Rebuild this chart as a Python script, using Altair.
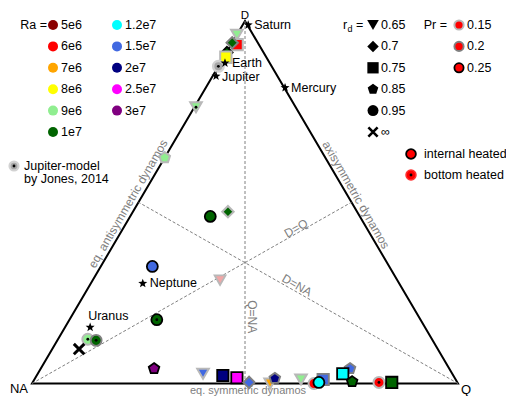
import numpy as np
import pandas as pd
import altair as alt

# ---------------- data ----------------
ra_labels = ["5e6", "6e6", "7e6", "8e6", "9e6", "1e7", "1.2e7", "1.5e7", "2e7", "2.5e7", "3e7"]
ra_colors = ["#8b0000", "#ff0000", "#ffa500", "#ffff00", "#90ee90", "#006400",
             "#00ffff", "#4169e1", "#000080", "#ff00ff", "#800080"]
rd_labels = ["0.65", "0.7", "0.75", "0.85", "0.95", "inf"]
rd_text = ["0.65", "0.7", "0.75", "0.85", "0.95", "∞"]
pr_labels = ["0.15", "0.2", "0.25"]
pr_strokes = ["#b8b8b8", "#808080", "#000000"]
pr_widths = [2.0, 1.8, 1.6]

# simulations: ternary fractions D (dipolar) and Q (quadrupolar); NA = 1 - D - Q
sim_D = [0.962, 0.935, 0.940, 0.913, 0.900, 0.762, 0.623, 0.461, 0.474, 0.323,
         0.285, 0.176, 0.122, 0.119, 0.095, 0.041, 0.027, 0.022, 0.016, 0.003,
         0.000, 0.014, 0.011, 0.000, 0.011, 0.003, 0.041, 0.027, 0.005, 0.003, 0.003]
sim_Q = [0.000, 0.014, 0.000, 0.001, 0.005, 0.004, 0.000, 0.188, 0.223, 0.121,
         0.299, 0.205, 0.070, 0.091, 0.063, 0.266, 0.388, 0.437, 0.473, 0.508,
         0.559, 0.563, 0.626, 0.662, 0.678, 0.672, 0.726, 0.716, 0.749, 0.813, 0.843]
sim_ra = ["9e6", "6e6", "1e7", "1e7", "8e6", "9e6", "9e6", "1e7", "1e7", "1.5e7",
          "5e6", "1e7", "9e6", "1e7", "1e7", "3e7", "1.5e7", "2e7", "2.5e7", "1.5e7",
          "7e6", "2e7", "9e6", "6e6", "1.5e7", "1.2e7", "1.5e7", "1.2e7", "1e7", "6e6", "1e7"]
sim_rd = ["0.65", "0.75", "0.7", "0.7", "0.75", "0.65", "0.85", "0.95", "0.7", "0.95",
          "0.65", "0.95", "0.95", "0.95", "inf", "0.85", "0.65", "0.75", "0.75", "0.7",
          "0.65", "0.85", "0.65", "0.95", "0.75", "0.95", "0.85", "0.75", "0.85", "0.95", "0.75"]
sim_pr = ["0.15", "0.15", "0.2", "0.25", "0.15", "0.15", "0.15", "0.25", "0.15", "0.25",
          "0.2", "0.25", "0.15", "0.2", "0.25", "0.25", "0.15", "0.25", "0.25", "0.2",
          "0.15", "0.2", "0.15", "0.15", "0.2", "0.25", "0.2", "0.25", "0.25", "0.15", "0.25"]
sim_heat = ["internal", "internal", "internal", "internal", "internal", "bottom", "internal",
            "internal", "internal", "internal", "internal", "bottom", "bottom", "bottom",
            "internal", "internal", "internal", "internal", "internal", "internal", "internal",
            "internal", "internal", "internal", "internal", "internal", "internal", "internal",
            "internal", "bottom", "internal"]
sim_hollow = [0, 0, 0, 0, 0, 0, 0, 0, 0, 0, 1, 0, 0, 0, 0, 0, 0, 0, 0, 0,
              0, 0, 0, 0, 0, 0, 0, 0, 0, 0, 0]

planet_names = ["Saturn", "Earth", "Jupiter", "Mercury", "Neptune", "Uranus"]
planet_D = [0.989, 0.884, 0.848, 0.816, 0.276, 0.155]
planet_Q = [0.013, 0.011, 0.008, 0.186, 0.122, 0.059]

jones_D = [0.875]
jones_Q = [0.0]

# ---------------- layout ----------------
R3 = np.sqrt(3) / 2
W, H = 498, 388
SX = 426.0                  # px per unit along x
BASE, APEX = 383.5, 21.0    # page y of triangle base and apex
SY = (BASE - APEX) / R3     # px per unit along y
xs = alt.Scale(domain=[-24 / SX, (W - 24) / SX], nice=False, zero=False)
ys = alt.Scale(domain=[-(H - (BASE - 8)) / SY, (BASE - 8) / SY], nice=False, zero=False)
FONT = "Liberation Sans"
G = "#808080"


def px(x):  # page pixel -> chart x
    return (x - 32) / SX


def py(y):  # page pixel -> chart y
    return (BASE - y) / SY


def rx(x):  # position relative to triangle (reference frame) -> chart x
    return (x - 32) / 426.0


def ry(y):
    return (388 - y) / 369.0 * R3


def enc(**kw):
    d = dict(x=alt.X("X:Q", scale=xs, axis=None), y=alt.Y("Y:Q", scale=ys, axis=None))
    d.update(kw)
    return d


def ternary(D, Q):
    D = np.asarray(D, float)
    Q = np.asarray(Q, float)
    return Q + D / 2, D * R3


star_pts = []
for k in range(10):
    r = 1.0 if k % 2 == 0 else 0.42
    a = np.deg2rad(-90 + 36 * k)
    star_pts.append(f"{r * np.cos(a):.3f},{r * np.sin(a):.3f}")
STAR = "M" + "L".join(star_pts) + "Z"
PENTA = "M0,-1L0.951,-0.309L0.588,0.809L-0.588,0.809L-0.951,-0.309Z"
XMARK = "M-1,-1L1,1M-1,1L1,-1"
rd_shapes = ["triangle-down", "diamond", "square", PENTA, "circle"]
rd_sizes = [135, 120, 160, 125, 125]

layers = []

# triangle frame
tri = pd.DataFrame({"X": [0, 1, 0.5, 0, 1], "Y": [0, 0, R3, 0, 0], "o": [0, 1, 2, 3, 4]})
layers.append(alt.Chart(tri).mark_line(color="black", strokeWidth=2, strokeJoin="miter")
              .encode(**enc(order="o:Q")))

# medians
med = pd.DataFrame({"X": [0, 1, 0.5], "Y": [0, 0, R3],
                    "X2": [0.75, 0.25, 0.5], "Y2": [R3 / 2, R3 / 2, 0]})
layers.append(alt.Chart(med).mark_rule(color=G, strokeWidth=1, strokeDash=[3, 2])
              .encode(**enc(x2="X2:Q", y2="Y2:Q")))

# simulation markers
sx, sy = ternary(sim_D, sim_Q)
sims = pd.DataFrame({"X": sx, "Y": sy, "Ra": sim_ra, "rd": sim_rd, "Pr": sim_pr,
                     "heat": sim_heat, "hollow": sim_hollow})
ra_fill = alt.Scale(domain=ra_labels, range=ra_colors)
sims_main = sims[(sims.rd != "inf") & (sims.hollow == 0)]
layers.append(alt.Chart(sims_main).mark_point(filled=True, opacity=1).encode(**enc(
    fill=alt.Fill("Ra:N", scale=ra_fill, legend=None),
    shape=alt.Shape("rd:N", scale=alt.Scale(domain=rd_labels[:5], range=rd_shapes), legend=None),
    size=alt.Size("rd:O", scale=alt.Scale(domain=rd_labels[:5], range=rd_sizes), legend=None),
    stroke=alt.Stroke("Pr:N", scale=alt.Scale(domain=pr_labels, range=pr_strokes), legend=None),
    strokeWidth=alt.StrokeWidth("Pr:O", scale=alt.Scale(domain=pr_labels, range=pr_widths), legend=None),
)))
sims_hollow = sims[sims.hollow == 1]
layers.append(alt.Chart(sims_hollow).mark_point(shape="triangle-down", filled=True, fill="#f2a6a6",
                                                size=120, strokeWidth=1.8, opacity=1).encode(**enc(
    stroke=alt.Stroke("Ra:N", scale=alt.Scale(domain=ra_labels, range=["#c80000"] + ra_colors[1:]),
                      legend=None))))
sims_inf = sims[sims.rd == "inf"]
layers.append(alt.Chart(sims_inf).mark_point(shape=XMARK, filled=False, size=110, strokeWidth=3,
                                             opacity=1, strokeCap="butt").encode(**enc(
    stroke=alt.Stroke("Ra:N", scale=ra_fill, legend=None))))
layers.append(alt.Chart(sims[sims.heat == "bottom"]).mark_point(
    shape="circle", filled=True, color="black", size=8, opacity=1).encode(**enc()))

# Jones 2014 Jupiter model
jx, jy = ternary(jones_D, jones_Q)
jon = pd.DataFrame({"X": jx, "Y": jy})
layers.append(alt.Chart(jon).mark_point(shape="circle", filled=True, fill="#a6a6a6", stroke="#d2d2d2",
                                        strokeWidth=2.5, size=110, opacity=1).encode(**enc()))
layers.append(alt.Chart(jon).mark_point(shape="circle", filled=True, color="black", size=8,
                                        opacity=1).encode(**enc()))

# planets
ppx, ppy = ternary(planet_D, planet_Q)
pl = pd.DataFrame({"X": ppx, "Y": ppy, "name": planet_names})
layers.append(alt.Chart(pl).mark_point(shape=STAR, filled=True, color="black", size=90,
                                       opacity=1).encode(**enc()))
lab_dx = [6, 7, 6, 6, 7, -2]
lab_dy = [0, 0, 1, 0, 0, -11]
pl_lab = pd.DataFrame({"X": ppx + np.array(lab_dx) / SX, "Y": ppy - np.array(lab_dy) / SY,
                       "name": planet_names})
layers.append(alt.Chart(pl_lab).mark_text(align="left", baseline="middle", font=FONT, fontSize=12.5,
                                          color="black").encode(**enc(text="name:N")))


def text_layer(items, frame="page", **kw):
    fx, fy = (px, py) if frame == "page" else (rx, ry)
    df = pd.DataFrame({"X": [fx(a) for a, b, t in items], "Y": [fy(b) for a, b, t in items],
                       "t": [t for a, b, t in items]})
    base = dict(baseline="middle", font=FONT, fontSize=12.5, color="black", align="left")
    base.update(kw)
    return alt.Chart(df).mark_text(**base).encode(**enc(text="t:N"))


# vertex labels
layers.append(text_layer([(245, 18.6, "D")], align="center", baseline="alphabetic", fontSize=11.5))
layers.append(text_layer([(19, 388.5, "NA"), (466, 389.5, "Q")], align="center", fontSize=13))
# edge and line labels (placed relative to the triangle)
layers.append(text_layer([(128, 205, "eq. antisymmetric dynamos")], frame="tri", align="center",
                         angle=300, color=G, fontSize=12))
layers.append(text_layer([(356, 196, "axisymmetric dynamos")], frame="tri", align="center",
                         angle=60, color=G, fontSize=12))
layers.append(text_layer([(296, 230, "D=Q")], frame="tri", align="center", angle=330, color=G, fontSize=12))
layers.append(text_layer([(297, 288, "D=NA")], frame="tri", align="center", angle=30, color=G, fontSize=12))
layers.append(text_layer([(252, 320, "Q=NA")], frame="tri", align="center", angle=90, color=G, fontSize=12))
layers.append(text_layer([(248, 395.8, "eq. symmetric dynamos")], align="center", baseline="bottom",
                         color=G, fontSize=11))

# ---- Ra legend ----
ra_rows = [25 + 21.4 * (i % 6) for i in range(len(ra_labels))]
ra_cols = [53 if i < 6 else 117 for i in range(len(ra_labels))]
ra_leg = pd.DataFrame({"X": [px(c) for c in ra_cols], "Y": [py(r) for r in ra_rows],
                       "Ra": ra_labels, "LX": [px(c + 8) for c in ra_cols]})
layers.append(alt.Chart(ra_leg).mark_point(shape="circle", filled=True, size=100, opacity=1).encode(**enc(
    fill=alt.Fill("Ra:N", scale=ra_fill, legend=None))))
layers.append(alt.Chart(ra_leg).mark_text(align="left", baseline="middle", font=FONT, fontSize=12.5).encode(
    x=alt.X("LX:Q", scale=xs, axis=None), y=alt.Y("Y:Q", scale=ys, axis=None), text="Ra:N"))
layers.append(text_layer([(47, 25, "Ra =")], align="right"))

# ---- r_d legend ----
rd_rows = [25 + 21.4 * i for i in range(len(rd_labels))]
rd_leg = pd.DataFrame({"X": [px(373)] * 5, "Y": [py(r) for r in rd_rows[:5]], "rd": rd_labels[:5]})
layers.append(alt.Chart(rd_leg).mark_point(filled=True, color="black", opacity=1).encode(**enc(
    shape=alt.Shape("rd:N", scale=alt.Scale(domain=rd_labels[:5], range=rd_shapes), legend=None),
    size=alt.Size("rd:O", scale=alt.Scale(domain=rd_labels[:5], range=[100, 90, 110, 95, 105]), legend=None))))
layers.append(alt.Chart(pd.DataFrame({"X": [px(373)], "Y": [py(rd_rows[5])]})).mark_point(
    shape=XMARK, filled=False, size=85, strokeWidth=2.6, color="black", opacity=1).encode(**enc()))
layers.append(text_layer([(381, r, t) for r, t in zip(rd_rows, rd_text)]))
layers.append(text_layer([(343, 25, "r"), (356, 25, "=")]))
layers.append(text_layer([(347.5, 29, "d")], fontSize=9))

# ---- Pr legend ----
pr_rows = [25 + 21.4 * i for i in range(3)]
pr_leg = pd.DataFrame({"X": [px(459)] * 3, "Y": [py(r) for r in pr_rows], "Pr": pr_labels})
layers.append(alt.Chart(pr_leg).mark_point(shape="circle", filled=True, fill="red", size=85, opacity=1).encode(**enc(
    stroke=alt.Stroke("Pr:N", scale=alt.Scale(domain=pr_labels, range=pr_strokes), legend=None),
    strokeWidth=alt.StrokeWidth("Pr:O", scale=alt.Scale(domain=pr_labels, range=[2.4, 1.8, 1.6]), legend=None))))
layers.append(text_layer([(467, r, t) for r, t in zip(pr_rows, pr_labels)]))
layers.append(text_layer([(447, 25, "Pr =")], align="right"))

# ---- heating legend ----
HX = 411
heat_leg = pd.DataFrame({"X": [px(HX)], "Y": [py(154)]})
layers.append(alt.Chart(heat_leg).mark_point(shape="circle", filled=True, fill="red", stroke="black",
                                             strokeWidth=1.8, size=95, opacity=1).encode(**enc()))
heat_leg2 = pd.DataFrame({"X": [px(HX)], "Y": [py(175)]})
layers.append(alt.Chart(heat_leg2).mark_point(shape="circle", filled=True, fill="red", stroke="#ff3030",
                                              strokeWidth=1.5, size=100, opacity=1).encode(**enc()))
layers.append(alt.Chart(heat_leg2).mark_point(shape="circle", filled=True, color="black", size=8,
                                              opacity=1).encode(**enc()))
layers.append(text_layer([(HX + 13, 154, "internal heated"), (HX + 13, 175, "bottom heated")]))

# ---- Jones legend ----
jl = pd.DataFrame({"X": [px(14)], "Y": [py(166)]})
layers.append(alt.Chart(jl).mark_point(shape="circle", filled=True, fill="#a6a6a6", stroke="#d2d2d2",
                                       strokeWidth=2.2, size=80, opacity=1).encode(**enc()))
layers.append(alt.Chart(jl).mark_point(shape="circle", filled=True, color="black", size=8,
                                       opacity=1).encode(**enc()))
layers.append(text_layer([(24, 166, "Jupiter-model"), (24, 179, "by Jones, 2014")]))

chart = alt.layer(*layers).properties(
    width=W, height=H, padding=0, autosize=alt.AutoSizeParams(type="none")
).configure_view(stroke=None)

chart.save("out.html", embed_options={"renderer": "svg", "actions": False})
